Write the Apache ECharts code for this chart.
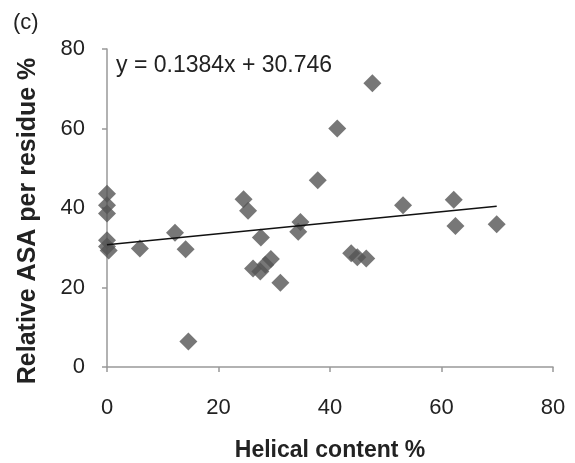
<!DOCTYPE html>
<html lang="en">
<head>
    <meta charset="UTF-8">
    <title>Helical content vs ASA</title>
    <script src="https://cdn.jsdelivr.net/npm/echarts@6/dist/echarts.min.js"></script>
    <style>
        html, body { margin: 0; padding: 0; background: #fff; }
    </style>
</head>
<body>
    <div id="main" style="width: 575px; height: 463px;"></div>
    <script type="text/javascript">
        // data
        var helical = [0, 0, 0, 0, 0, 0.3, 5.9, 12.2, 14.1, 14.6, 24.5, 25.3, 27.6, 26.2, 27.5, 28.4, 29.4, 31.1, 34.3, 34.7, 37.8, 41.3, 47.6, 43.8, 44.9, 46.5, 53.1, 62.2, 62.5, 69.9];
        var asa = [43.6, 40.7, 38.6, 31.9, 30.3, 29.3, 29.8, 33.8, 29.6, 6.4, 42.2, 39.3, 32.6, 24.8, 24.0, 25.7, 27.2, 21.2, 34.0, 36.5, 47.0, 60.0, 71.4, 28.6, 27.6, 27.3, 40.7, 42.1, 35.5, 35.9];
        // trend line ends (y = 0.1384x + 30.746)
        var trendX = [0, 69.9];
        var trendY = [30.75, 40.42];

        var points = helical.map(function (x, i) { return [x, asa[i]]; });
        var trend = trendX.map(function (x, i) { return [x, trendY[i]]; });

        var font = 'Liberation Sans, Arial, sans-serif';
        var chart = echarts.init(document.getElementById('main'));
        var option = {
            animation: false,
            grid: { left: 107, right: 22, top: 49, bottom: 96, outerBoundsMode: 'none', containLabel: false },
            graphic: [
                { type: 'text', left: 13, top: 12, style: { text: '(c)', font: '22px ' + font, fill: '#222' } },
                { type: 'text', left: 116, top: 54, style: { text: 'y = 0.1384x + 30.746', font: '23px ' + font, fill: '#222' } },
                {
                    type: 'text', x: 28, y: 221, rotation: Math.PI / 2,
                    style: {
                        text: 'Relative ASA per residue %', font: 'bold 25px ' + font, fill: '#222',
                        align: 'center', verticalAlign: 'middle'
                    }
                }
            ],
            xAxis: {
                type: 'value', min: 0, max: 80, interval: 20,
                name: 'Helical content %', nameLocation: 'middle', nameGap: 72,
                nameTextStyle: { fontFamily: font, fontSize: 23, fontWeight: 'bold', color: '#222' },
                axisLine: { lineStyle: { color: '#999', width: 1.5 } },
                axisTick: { show: true, length: 5, lineStyle: { color: '#999', width: 1.5 } },
                axisLabel: { fontFamily: font, fontSize: 22, color: '#222', margin: 30 },
                splitLine: { show: false }
            },
            yAxis: {
                type: 'value', min: 0, max: 80, interval: 20,
                axisLine: { show: true, lineStyle: { color: '#999', width: 1.5 } },
                axisTick: { show: true, length: 5, lineStyle: { color: '#999', width: 1.5 } },
                axisLabel: { fontFamily: font, fontSize: 22, color: '#222', margin: 22 },
                splitLine: { show: false }
            },
            series: [
                {
                    type: 'scatter',
                    symbol: 'diamond',
                    symbolSize: 18,
                    itemStyle: { color: '#555555' },
                    data: points,
                    z: 2
                },
                {
                    type: 'line',
                    data: trend,
                    symbol: 'none',
                    lineStyle: { color: '#111', width: 1.5 },
                    z: 3
                }
            ]
        };
        chart.setOption(option);
    </script>
</body>
</html>
